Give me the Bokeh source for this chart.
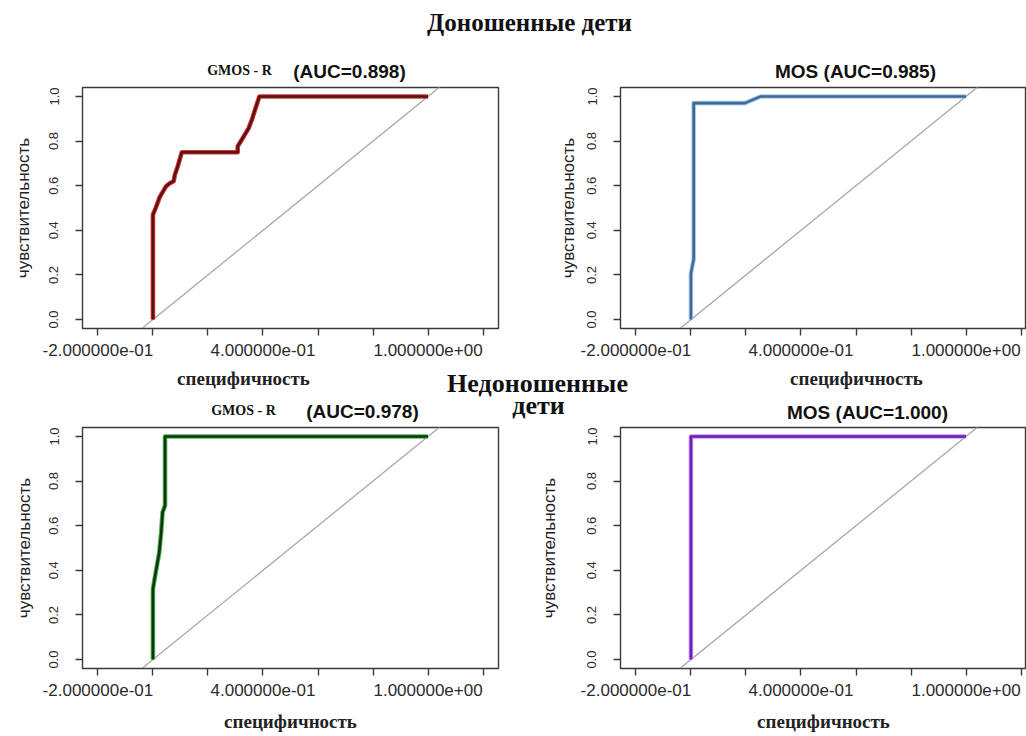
from bokeh.plotting import figure
from bokeh.layouts import column, row
from bokeh.models import Range1d, FixedTicker, CustomJSTickFormatter
from bokeh.core.properties import value
from bokeh.embed import file_html
from bokeh.resources import INLINE

# ---------------- data ----------------
main_title_top = "Доношенные дети"
main_title_mid = ["Недоношенные", "дети"]
panel_prefix = ["GMOS - R", "", "GMOS - R", ""]
panel_auc = ["(AUC=0.898)", "MOS (AUC=0.985)", "(AUC=0.978)", "MOS (AUC=1.000)"]
x_label = "специфичность"
y_label = "чувствительность"

x_ticks = [-0.2, 0.0, 0.2, 0.4, 0.6, 0.8, 1.0, 1.2]
x_tick_labels = ["-2.000000e-01", "", "", "4.000000e-01", "", "", "1.000000e+00", ""]
y_ticks = [0.0, 0.2, 0.4, 0.6, 0.8, 1.0]
y_tick_labels = ["0.0", "0.2", "0.4", "0.6", "0.8", "1.0"]

# ROC curves (x as plotted, y = sensitivity)
gmos_term_x = [0, 0, 0.01, 0.025, 0.047, 0.06, 0.075, 0.08, 0.09, 0.105, 0.308, 0.308, 0.32, 0.348, 0.36, 0.375, 0.387, 1.0]
gmos_term_y = [0, 0.47, 0.50, 0.55, 0.596, 0.61, 0.62, 0.65, 0.686, 0.75, 0.75, 0.776, 0.80, 0.858, 0.897, 0.955, 1.0, 1.0]
mos_term_x = [0, 0, 0.01, 0.01, 0.196, 0.254, 1.0]
mos_term_y = [0, 0.208, 0.27, 0.97, 0.97, 1.0, 1.0]
gmos_pre_x = [0, 0, 0.01, 0.023, 0.03, 0.035, 0.044, 0.044, 1.0]
gmos_pre_y = [0, 0.317, 0.39, 0.48, 0.57, 0.66, 0.69, 1.0, 1.0]
mos_pre_x = [0, 0, 1.0]
mos_pre_y = [0, 1.0, 1.0]
diag = [-0.2, 1.3]

core_colors = ["#5E1010", "#3F6A96", "#103410", "#6524B0"]
edge_colors = ["#D03A3A", "#A9CBEA", "#4DB84D", "#D08BFF"]

X_LO, X_HI = -0.256, 1.256
Y_LO, Y_HI = -0.04, 1.04

LABEL_CODE = """
for (let i = 0; i < vals.length; i++) {
  if (Math.abs(tick - vals[i]) < 1e-6) { return labs[i]; }
}
return "";
"""

SERIF = "Liberation Serif"
SANS = "Liberation Sans"


def panel(xs, ys, k, width, height, bl, br, bt, bb, ylab_standoff, with_xlabel):
    frame_w = width - bl - br
    x_end = X_LO + (X_HI - X_LO) * frame_w / 416.0
    p = figure(width=width, height=height, x_range=Range1d(X_LO, x_end),
               y_range=Range1d(Y_LO, Y_HI), output_backend="svg",
               toolbar_location=None, min_border_left=bl, min_border_right=br,
               min_border_top=bt, min_border_bottom=bb)
    p.grid.visible = False
    p.outline_line_color = "#3a3a3a"
    p.outline_line_width = 1.4
    p.background_fill_color = "white"
    p.border_fill_color = "white"

    p.line(diag, diag, line_color="#A8A8A8", line_width=1.3)
    p.line(xs, ys, line_color=edge_colors[k], line_width=4.6, line_join="round")
    p.line(xs, ys, line_color=core_colors[k], line_width=2.6, line_join="round")

    xa = p.xaxis[0]
    xa.ticker = FixedTicker(ticks=x_ticks)
    xa.formatter = CustomJSTickFormatter(args=dict(vals=x_ticks, labs=x_tick_labels), code=LABEL_CODE)
    xa.major_tick_out = 7
    xa.major_tick_in = 0
    xa.minor_tick_out = 0
    xa.minor_tick_in = 0
    xa.major_label_standoff = 8
    xa.major_label_text_font = SANS
    xa.major_label_text_font_size = "17px"
    xa.major_label_text_color = "#2b2b2b"
    xa.axis_line_color = "#3a3a3a"
    xa.major_tick_line_color = "#3a3a3a"
    xa.major_tick_line_width = 1.4
    if with_xlabel:
        xa.axis_label = x_label
        xa.axis_label_text_font = SERIF
        xa.axis_label_text_font_style = "bold"
        xa.axis_label_text_font_size = "19px"
        xa.axis_label_text_color = "#222222"
        xa.axis_label_standoff = 12

    ya = p.yaxis[0]
    ya.ticker = FixedTicker(ticks=y_ticks)
    ya.formatter = CustomJSTickFormatter(args=dict(vals=y_ticks, labs=y_tick_labels), code=LABEL_CODE)
    ya.major_label_orientation = "vertical"
    ya.major_tick_out = 7
    ya.major_tick_in = 0
    ya.minor_tick_out = 0
    ya.minor_tick_in = 0
    ya.major_label_standoff = 17
    ya.major_label_text_font = SANS
    ya.major_label_text_font_size = "13px"
    ya.major_label_text_color = "#2b2b2b"
    ya.axis_line_color = "#3a3a3a"
    ya.major_tick_line_color = "#3a3a3a"
    ya.major_tick_line_width = 1.4
    ya.axis_label = y_label
    ya.axis_label_text_font = SANS
    ya.axis_label_text_font_style = "normal"
    ya.axis_label_text_font_size = "17px"
    ya.axis_label_text_color = "#222222"
    ya.axis_label_standoff = ylab_standoff
    return p


def band(height):
    b = figure(width=1026, height=height, x_range=Range1d(0, 1026), y_range=Range1d(height, 0),
               output_backend="svg", toolbar_location=None, min_border=0,
               x_axis_location=None, y_axis_location=None, outline_line_color=None)
    b.grid.visible = False
    b.background_fill_color = "white"
    b.border_fill_color = "white"
    return b


TXT = dict(text_align="center", text_baseline="middle")

# top band: main title + row-1 panel titles
top = band(84)
top.text(x=[529], y=[22], text=[main_title_top], text_font=value(SERIF), text_font_style="bold",
         text_font_size="25px", text_color="#111111", **TXT)
top.text(x=[239], y=[70], text=[panel_prefix[0]], text_font=value(SERIF), text_font_style="bold",
         text_font_size="14px", text_color="#111111", **TXT)
top.text(x=[349, 855], y=[71, 71], text=[panel_auc[0], panel_auc[1]], text_font=value(SANS),
         text_font_style="bold", text_font_size="19px", text_color="#111111", **TXT)

# middle band: row-1 x labels, second main title, row-2 panel titles
mid = band(60)
mid.text(x=[243, 856], y=[14, 14], text=[x_label, x_label], text_font=value(SERIF), text_font_style="bold",
         text_font_size="19px", text_color="#222222", **TXT)
mid.text(x=[537, 538], y=[19, 41], text=main_title_mid, text_font=value(SERIF), text_font_style="bold",
         text_font_size="26px", text_color="#111111", **TXT)
mid.text(x=[243], y=[46], text=[panel_prefix[2]], text_font=value(SERIF), text_font_style="bold",
         text_font_size="14px", text_color="#111111", **TXT)
mid.text(x=[362, 867], y=[47, 48], text=[panel_auc[2], panel_auc[3]], text_font=value(SANS),
         text_font_style="bold", text_font_size="19px", text_color="#111111", **TXT)

p1 = panel(gmos_term_x, gmos_term_y, 0, 520, 280, 82, 22, 3, 36, 14, False)
p2 = panel(mos_term_x, mos_term_y, 1, 506, 280, 100, 0, 3, 36, 7, False)
p3 = panel(gmos_pre_x, gmos_pre_y, 2, 520, 312, 82, 22, 3, 68, 13, True)
p4 = panel(mos_pre_x, mos_pre_y, 3, 506, 312, 100, 0, 3, 68, 26, True)

layout = column(top, row(p1, p2), mid, row(p3, p4))

open("out.html", "w").write(file_html(layout, INLINE))
